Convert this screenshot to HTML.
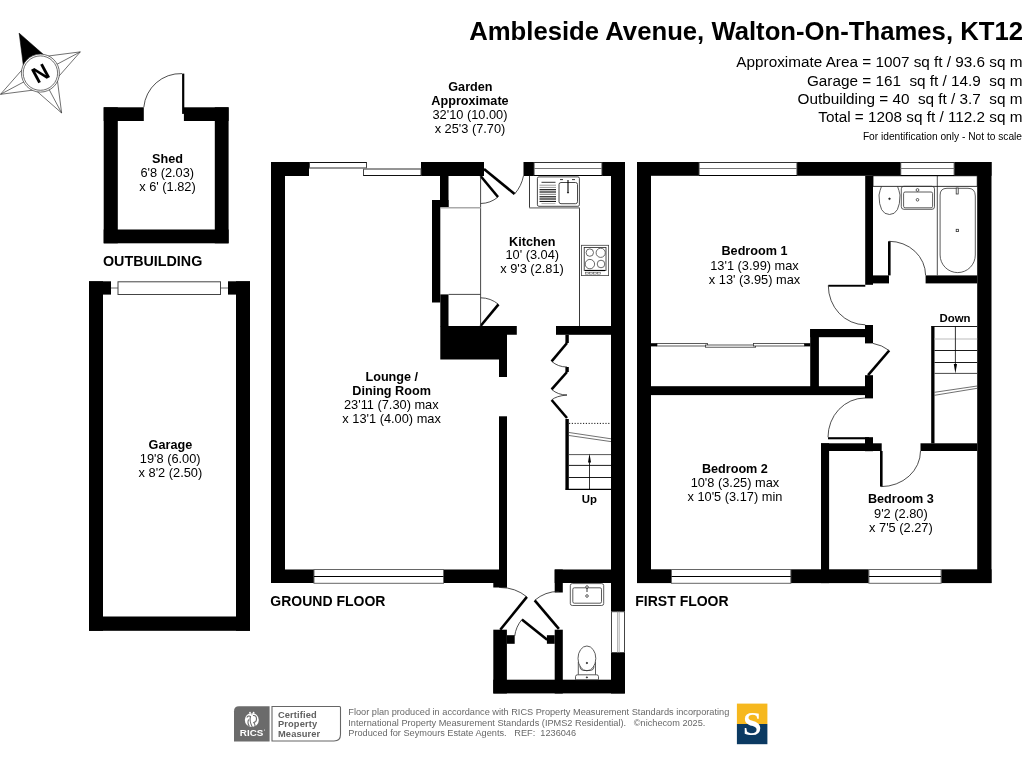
<!DOCTYPE html>
<html><head><meta charset="utf-8"><title>Floor plan</title>
<style>
html,body{margin:0;padding:0;background:#fff;width:1024px;height:768px;overflow:hidden}
svg{display:block;will-change:transform}
text{font-family:"Liberation Sans",sans-serif;fill:#000;white-space:pre}
.b{font-weight:bold}
.t{font-size:12.5px}
.g{fill:#777}
</style></head><body>
<svg width="1024" height="768" viewBox="0 0 1024 768">
<rect width="1024" height="768" fill="#fff"/>

<!-- ============ WALLS: GROUND FLOOR ============ -->
<g id="walls" fill="#000">
  <!-- lounge -->
  <rect x="271" y="162" width="38" height="14"/>
  <rect x="271" y="162" width="14" height="421"/>
  <rect x="271" y="569.5" width="43" height="13.5"/>
  <rect x="443.5" y="569.5" width="63" height="13.5"/>
  <rect x="421" y="162" width="63" height="14"/>
  <!-- cupboard wall -->
  <rect x="440" y="176" width="8.5" height="31.5"/>
  <rect x="432" y="200" width="16.5" height="7.5"/>
  <rect x="432" y="200" width="8.3" height="102.5"/>
  <rect x="440.3" y="294.4" width="8.2" height="32"/>
  <path d="M440.3,326 L516.8,326 L516.8,334.8 L507,334.8 L507,377 L499,377 L499,359.5 L440.3,359.5 Z"/>
  <rect x="499" y="416.3" width="8" height="171.2"/>
  <rect x="493.3" y="583" width="13.7" height="4.5"/>
  <!-- kitchen top right -->
  <rect x="523.5" y="162" width="10.5" height="14"/>
  <rect x="602" y="162" width="23" height="14"/>
  <rect x="611" y="162" width="14" height="449.7"/>
  <rect x="611" y="652.5" width="14" height="41"/>
  <rect x="556" y="326" width="55" height="8.8"/>
  <!-- hall bottom -->
  <rect x="554.7" y="569.5" width="70" height="13.5"/>
  <rect x="554.7" y="569.5" width="8.1" height="23"/>
  <!-- porch -->
  <rect x="493.3" y="629.7" width="13.6" height="63.8"/>
  <rect x="506.9" y="635.2" width="7.8" height="8.6"/>
  <rect x="554.7" y="629.7" width="8.1" height="63.8"/>
  <rect x="546.9" y="635.2" width="7.8" height="8.6"/>
  <rect x="493.3" y="679.7" width="131.4" height="13.7"/>
  <!-- stair wall -->
  <rect x="565.4" y="334.8" width="3.4" height="8.2"/>
  <rect x="565.4" y="367" width="3.4" height="5"/>
  <rect x="565.4" y="419" width="3.4" height="70.4"/>

  <!-- ============ FIRST FLOOR ============ -->
  <rect x="637" y="162" width="14" height="421"/>
  <rect x="637" y="162" width="62" height="13.8"/>
  <rect x="797" y="162" width="103.7" height="13.8"/>
  <rect x="954.2" y="162" width="37.3" height="13.8"/>
  <rect x="977.2" y="162" width="14.3" height="421"/>
  <rect x="637" y="569.3" width="34.5" height="13.8"/>
  <rect x="790.8" y="569.3" width="78.1" height="13.8"/>
  <rect x="941.1" y="569.3" width="50.4" height="13.8"/>
  <!-- bathroom -->
  <rect x="865.2" y="175.8" width="7.8" height="109"/>
  <rect x="873" y="275.4" width="16" height="8"/>
  <rect x="925.6" y="275.4" width="51.6" height="8"/>
  <rect x="888" y="241.3" width="2.6" height="34.1"/>
  <rect x="828.3" y="284.8" width="37" height="1.9"/>
  <!-- wardrobe / landing -->
  <rect x="865" y="325" width="8" height="18.4"/>
  <rect x="810.2" y="329" width="62.8" height="8.2"/>
  <rect x="810.2" y="329" width="8.7" height="66"/>
  <rect x="651" y="386.2" width="222" height="8.9"/>
  <rect x="865" y="375.2" width="8" height="23.2"/>
  <rect x="828" y="437.2" width="41" height="2.1"/>
  <rect x="865" y="437.2" width="8" height="14"/>
  <rect x="821" y="443.3" width="60.7" height="7.7"/>
  <rect x="920.5" y="443.3" width="56.7" height="7.7"/>
  <rect x="821" y="443.3" width="8.1" height="139.8"/>
  <rect x="880" y="451" width="2.6" height="35.6"/>
  <rect x="931.2" y="326.4" width="3.3" height="117"/>

  <!-- ============ OUTBUILDING ============ -->
  <rect x="103.7" y="107.3" width="40.1" height="13.7"/>
  <rect x="183.9" y="107.3" width="44.7" height="13.7"/>
  <rect x="103.7" y="107.3" width="14.1" height="136"/>
  <rect x="214.8" y="107.3" width="13.8" height="136"/>
  <rect x="103.7" y="229.5" width="124.9" height="13.8"/>
  <rect x="182.1" y="73.6" width="2.2" height="40.3"/>
  <!-- garage -->
  <rect x="89" y="281.3" width="22" height="13.3"/>
  <rect x="228" y="281.3" width="22" height="13.3"/>
  <rect x="89" y="281.3" width="14" height="349.5"/>
  <rect x="236" y="281.3" width="14" height="349.5"/>
  <rect x="89" y="616.5" width="161" height="14.3"/>
</g>

<!-- ============ WINDOWS ============ -->
<g fill="#fff" stroke="#444" stroke-width="1">
  <rect x="309.5" y="162.5" width="57" height="5.5"/>
  <rect x="363.5" y="169" width="57.5" height="6.5"/>
  <rect x="314" y="569.5" width="129.5" height="13.8" stroke="#666"/>
  <rect x="534" y="162.5" width="68" height="13" stroke="#333"/>
  <rect x="611.5" y="611.7" width="13" height="40.8"/>
  <rect x="118" y="281.8" width="102.5" height="12.7"/>
  <rect x="699" y="162.5" width="98" height="13" stroke="#333"/>
  <rect x="900.7" y="162.5" width="53.5" height="13" stroke="#333"/>
  <rect x="671.5" y="569.5" width="119.3" height="13.8" stroke="#666"/>
  <rect x="868.9" y="569.5" width="72.2" height="13.8" stroke="#666"/>
</g>
<g stroke="#000" stroke-width="1" fill="none">
  <line x1="309.5" y1="168" x2="366.5" y2="168" stroke="#888"/>
  <line x1="363.5" y1="169" x2="421" y2="169" stroke="#888"/>
  <line x1="309.5" y1="162.5" x2="366.5" y2="162.5" stroke="#111"/>
  <line x1="363.5" y1="175.5" x2="421" y2="175.5" stroke="#111"/>
  <line x1="314" y1="576.5" x2="443.5" y2="576.5"/>
  <line x1="534" y1="168.5" x2="602" y2="168.5" stroke="#777"/>
  <line x1="699" y1="168.5" x2="797" y2="168.5" stroke="#777"/>
  <line x1="900.7" y1="168.5" x2="954.2" y2="168.5" stroke="#777"/>
  <line x1="534" y1="175.5" x2="602" y2="175.5" stroke="#000"/>
  <line x1="699" y1="175.5" x2="797" y2="175.5" stroke="#000"/>
  <line x1="900.7" y1="175.5" x2="954.2" y2="175.5" stroke="#000"/>
  <line x1="671.5" y1="576.5" x2="790.8" y2="576.5"/>
  <line x1="868.9" y1="576.5" x2="941.1" y2="576.5"/>
</g>
<g stroke="#999" stroke-width="0.8" fill="none">
  <line x1="617.6" y1="611.7" x2="617.6" y2="652.5"/>
  <line x1="619.2" y1="611.7" x2="619.2" y2="652.5"/>
  <line x1="111" y1="288" x2="118" y2="288" stroke="#444"/>
  <line x1="220.5" y1="288" x2="228" y2="288" stroke="#444"/>
</g>

<!-- ============ DOORS ============ -->
<g stroke="#000" stroke-width="2.6" fill="none" stroke-linecap="butt">
  <line x1="484" y1="169" x2="514.6" y2="194"/>
  <line x1="480.6" y1="176" x2="498" y2="197"/>
  <line x1="480.6" y1="326" x2="498.5" y2="304.4"/>
  <line x1="567" y1="343" x2="551.6" y2="361.3"/>
  <line x1="567" y1="372" x2="551.6" y2="389.4"/>
  <line x1="551.6" y1="400" x2="567" y2="418"/>
  <line x1="500.3" y1="629.7" x2="526.9" y2="596.9"/>
  <line x1="558.9" y1="628.9" x2="534.7" y2="600.3"/>
  <line x1="547.2" y1="639.8" x2="521.9" y2="619.5"/>
  <line x1="868.1" y1="375.2" x2="889.2" y2="350.5"/>
</g>
<g stroke="#222" stroke-width="0.8" fill="none">
  <path d="M514.6,194 A39,39 0 0 0 523.5,175.8"/>
  <path d="M498,197 A27.4,27.4 0 0 1 480.6,203.5"/>
  <path d="M498.5,304.4 A28,28 0 0 0 480.6,297.8"/>
  <path d="M551.6,361.3 Q558,367 567,367"/>
  <path d="M551.6,389.4 Q558,395 567,395"/>
  <path d="M567,395 Q556,396 551.6,400"/>
  <path d="M526.9,596.9 A42.2,42.2 0 0 0 500.3,587.5"/>
  <path d="M534.7,600.3 A37.5,37.5 0 0 1 558.9,591.4"/>
  <path d="M521.9,619.5 A32.4,32.4 0 0 0 514.7,636"/>
  <path d="M182,73.6 A37,37 0 0 0 143.8,107.3"/>
  <path d="M889,241.3 A36.5,34.1 0 0 1 925.6,275.4"/>
  <path d="M828.3,285.5 A37,39.3 0 0 0 865.3,324.8"/>
  <path d="M889.2,350.5 Q882,345 873,343.4"/>
  <path d="M865,398 A37,39.2 0 0 0 828,437.2"/>
  <path d="M881.2,486.6 A39.3,35.6 0 0 0 920.5,451"/>
</g>
<!-- wardrobe sliding doors -->
<g fill="#fff" stroke="#333" stroke-width="0.8">
  <rect x="657" y="343.4" width="50.5" height="2.6"/>
  <rect x="705.4" y="345" width="50.2" height="2.2"/>
  <rect x="753.5" y="343.4" width="50.9" height="2.6"/>
</g>
<rect x="651" y="343.2" width="6" height="3.2" fill="#000"/>
<rect x="804.4" y="343.2" width="6" height="3.2" fill="#000"/>


<!-- ============ FIXTURES ============ -->
<g stroke="#333" stroke-width="0.9" fill="none">
  <!-- cupboards -->
  <line x1="480.6" y1="176" x2="480.6" y2="326"/>
  <line x1="448.5" y1="294.4" x2="480.6" y2="294.4"/>
  <line x1="440.3" y1="207.7" x2="480.6" y2="207.7" stroke="#aaa" stroke-width="1.4"/>
  <!-- kitchen worktop -->
  <path d="M529.5,175.8 L529.5,207.8 L579.5,207.8 L579.5,326" stroke="#222"/>
  <line x1="529.5" y1="207.8" x2="579.5" y2="207.8" stroke="#aaa" stroke-width="1.2"/>
  <!-- sink -->
  <rect x="537.4" y="176.9" width="42" height="29.4" rx="1.5"/>
  <rect x="559" y="182.5" width="18.5" height="21.2" rx="2"/>
</g>
<g stroke="#000" fill="none">
  <line x1="541.5" y1="182.3" x2="555.5" y2="182.3" stroke-width="0.8"/>
  <line x1="539.5" y1="185.2" x2="556" y2="185.2" stroke="#999" stroke-width="1"/>
  <line x1="539.5" y1="187.4" x2="556" y2="187.4" stroke="#999" stroke-width="1"/>
  <line x1="539.5" y1="189.7" x2="556" y2="189.7" stroke-width="1.1"/>
  <line x1="539.5" y1="192" x2="556" y2="192" stroke-width="1.1"/>
  <line x1="539.5" y1="194.3" x2="556" y2="194.3" stroke="#777" stroke-width="1"/>
  <line x1="539.5" y1="196.8" x2="556" y2="196.8" stroke-width="1.1"/>
  <line x1="539.5" y1="199" x2="556" y2="199" stroke-width="1.1"/>
  <line x1="539.5" y1="201.4" x2="556" y2="201.4" stroke-width="1"/>
  <line x1="541.5" y1="203.6" x2="555.5" y2="203.6" stroke="#999" stroke-width="0.8"/>
  <line x1="568" y1="180" x2="568" y2="192" stroke-width="1.1"/>
  <path d="M566.8,192 L569.2,192 L568,193.8 Z" fill="#000" stroke="none"/>
  <line x1="560" y1="179.6" x2="563" y2="179.6" stroke-width="0.8"/>
  <line x1="572" y1="179.6" x2="575" y2="179.6" stroke-width="0.8"/>
</g>
<!-- hob -->
<g stroke="#444" stroke-width="0.8" fill="#fff">
  <rect x="581.4" y="245.3" width="27.2" height="30.3"/>
  <rect x="584.2" y="247.5" width="21.8" height="23" stroke="#222"/>
  <circle cx="589.8" cy="252.6" r="3.7"/>
  <circle cx="600.7" cy="252.8" r="4.6"/>
  <circle cx="589.9" cy="264.1" r="4.7"/>
  <circle cx="601" cy="264" r="3.8"/>
  <line x1="585" y1="270.5" x2="605" y2="270.5" stroke="#000" stroke-width="1.2"/>
  <rect x="585.5" y="272.5" width="3" height="1.6" stroke-width="0.5"/>
  <rect x="589.5" y="272.5" width="3" height="1.6" stroke-width="0.5"/>
  <rect x="593.5" y="272.5" width="3" height="1.6" stroke-width="0.5"/>
  <rect x="597.5" y="272.5" width="3" height="1.6" stroke-width="0.5"/>
</g>
<!-- GF stairs -->
<g stroke="#000" stroke-width="0.9" fill="none">
  <line x1="569" y1="423.4" x2="611" y2="423.4" stroke-dasharray="1.2,1.6"/>
  <line x1="569" y1="432.5" x2="611" y2="438.8" stroke="#333" stroke-width="0.7"/>
  <line x1="569" y1="435.5" x2="611" y2="441.6" stroke="#333" stroke-width="0.7"/>
  <line x1="568.8" y1="454.6" x2="611" y2="454.6" stroke="#444"/>
  <line x1="568.8" y1="465.4" x2="611" y2="465.4"/>
  <line x1="568.8" y1="477.5" x2="611" y2="477.5"/>
  <line x1="565.4" y1="489.4" x2="611" y2="489.4" stroke-width="1.1"/>
  <line x1="589.5" y1="460" x2="589.5" y2="489.4" stroke-width="0.8"/>
  <path d="M589.5,453.5 L591,462.5 L588,462.5 Z" fill="#000" stroke="none"/>
</g>
<!-- FF stairs -->
<g stroke="#000" stroke-width="0.9" fill="none">
  <line x1="931.2" y1="326.5" x2="977.2" y2="326.5"/>
  <line x1="934.5" y1="339" x2="977.2" y2="339" stroke="#bbb" stroke-width="1.1"/>
  <line x1="934.5" y1="350.5" x2="977.2" y2="350.5"/>
  <line x1="934.5" y1="362.5" x2="977.2" y2="362.5"/>
  <line x1="934.5" y1="373.4" x2="977.2" y2="373.4" stroke="#333"/>
  <line x1="955.4" y1="326.5" x2="955.4" y2="366" stroke-width="0.8"/>
  <path d="M955.4,373.6 L957,364 L953.8,364 Z" fill="#000" stroke="none"/>
  <line x1="934.5" y1="392.3" x2="977.2" y2="386" stroke="#333" stroke-width="0.7"/>
  <line x1="934.5" y1="395.3" x2="977.2" y2="388.3" stroke="#333" stroke-width="0.7"/>
</g>
<!-- GF WC -->
<g stroke="#333" stroke-width="0.8" fill="#fff">
  <rect x="570.3" y="583.6" width="33.4" height="21.9" rx="2"/>
  <rect x="572.8" y="587.8" width="28.7" height="15.4" rx="1.5"/>
  <circle cx="587" cy="587" r="1.3"/>
  <circle cx="587" cy="596" r="1.3"/>
  <line x1="587" y1="588" x2="587" y2="592" stroke="#000"/>
  <path d="M578.3,662 L578.3,674.8 M595.5,662 L595.5,674.8" fill="none"/>
  <ellipse cx="586.9" cy="658.4" rx="8.9" ry="12.4"/>
  <path d="M579.8,666.5 Q580.5,670.5 583.5,670.5 L590.5,670.5 Q593.5,670.5 594.2,666.5" fill="none"/>
  <path d="M575.5,679.7 L575.5,676.6 Q575.5,674.8 577.5,674.8 L596.5,674.8 Q598.5,674.8 598.5,676.6 L598.5,679.7 Z"/>
  <circle cx="586.9" cy="663" r="0.7" fill="#000"/>
  <circle cx="586.9" cy="677.4" r="0.6" fill="#000"/>
</g>
<!-- FF bathroom -->
<g stroke="#333" stroke-width="0.8" fill="none">
  <rect x="873" y="175.8" width="104.2" height="10.5" stroke="#000"/>
  <line x1="937.3" y1="175.8" x2="937.3" y2="275.4" stroke="#222"/>
  <path d="M881.5,186.3 Q880,190 879,195 Q879,214.5 889.5,214.5 Q900,214.5 900,195 Q899,190 897.5,186.3"/>
  <circle cx="889.5" cy="198.8" r="0.8" fill="#000"/>
  <rect x="901.3" y="186.3" width="33.2" height="23" rx="2.5"/>
  <rect x="903.6" y="192" width="29" height="15.8" rx="1.5"/>
  <circle cx="917.5" cy="190" r="1.4"/>
  <circle cx="917.5" cy="199.8" r="1.3"/>
  <path d="M940.1,255 L940.1,195 Q940.1,188.3 947,188.3 L968,188.3 Q975.3,188.3 975.3,196 L975.3,255 A17.6,17.6 0 0 1 940.1,255"/>
  <rect x="956.2" y="188" width="2" height="6" fill="#fff"/>
  <rect x="956.2" y="229.3" width="2.2" height="2.3"/>
</g>


<!-- ============ TEXT ============ -->
<g font-size="12.8" text-anchor="middle">
  <text x="167.5" y="163" class="b" font-size="12.65">Shed</text>
  <text x="167.3" y="177">6'8 (2.03)</text>
  <text x="167.5" y="190.5">x 6' (1.82)</text>

  <text x="170.4" y="449" class="b" font-size="12.65">Garage</text>
  <text x="170.2" y="463.3">19'8 (6.00)</text>
  <text x="170.4" y="477">x 8'2 (2.50)</text>

  <text x="470.4" y="90.5" class="b" font-size="12.65">Garden</text>
  <text x="470" y="105" class="b" font-size="12.65">Approximate</text>
  <text x="470" y="118.8">32'10 (10.00)</text>
  <text x="470" y="132.5">x 25'3 (7.70)</text>

  <text x="391.8" y="381.3" class="b" font-size="12.65">Lounge /</text>
  <text x="391.6" y="395" class="b" font-size="12.65">Dining Room</text>
  <text x="391.3" y="408.8">23'11 (7.30) max</text>
  <text x="391.6" y="422.5">x 13'1 (4.00) max</text>

  <text x="532.3" y="245.6" class="b" font-size="12.65">Kitchen</text>
  <text x="532.3" y="259.4">10' (3.04)</text>
  <text x="532" y="272.8">x 9'3 (2.81)</text>

  <text x="754.5" y="255.4" class="b" font-size="12.65">Bedroom 1</text>
  <text x="754.5" y="269.7">13'1 (3.99) max</text>
  <text x="754.5" y="283.7">x 13' (3.95) max</text>

  <text x="734.9" y="473" class="b" font-size="12.65">Bedroom 2</text>
  <text x="734.9" y="487">10'8 (3.25) max</text>
  <text x="734.9" y="500.5">x 10'5 (3.17) min</text>

  <text x="900.9" y="503" class="b" font-size="12.65">Bedroom 3</text>
  <text x="900.9" y="517.5">9'2 (2.80)</text>
  <text x="900.9" y="531.6">x 7'5 (2.27)</text>

  <text x="589.3" y="502.5" class="b" font-size="11.4">Up</text>
  <text x="955" y="321.8" class="b" font-size="11.4">Down</text>
</g>
<g font-size="14" class="b">
  <text x="103" y="266.3" class="b" font-size="14.3">OUTBUILDING</text>
  <text x="270.3" y="605.8" class="b">GROUND FLOOR</text>
  <text x="635.3" y="605.5" class="b">FIRST FLOOR</text>
</g>
<g text-anchor="end" xml:space="preserve">
  <text x="1023" y="39.8" class="b" font-size="25.7">Ambleside Avenue, Walton-On-Thames, KT12</text>
  <text x="1022.5" y="66.6" font-size="15.3">Approximate Area = 1007 sq ft / 93.6 sq m</text>
  <text x="1022.5" y="85.7" font-size="15.3">Garage = 161  sq ft / 14.9  sq m</text>
  <text x="1022.5" y="103.9" font-size="15.3">Outbuilding = 40  sq ft / 3.7  sq m</text>
  <text x="1022.5" y="122.3" font-size="15.3">Total = 1208 sq ft / 112.2 sq m</text>
  <text x="1022" y="140.4" font-size="10.2">For identification only - Not to scale</text>
</g>
<g font-size="9.2" fill="#686868" xml:space="preserve">
  <text x="348.3" y="714.5" style="fill:#686868">Floor plan produced in accordance with RICS Property Measurement Standards incorporating</text>
  <text x="348.3" y="725.8" style="fill:#686868">International Property Measurement Standards (IPMS2 Residential).   ©nichecom 2025.</text>
  <text x="348.3" y="736.3" style="fill:#686868">Produced for Seymours Estate Agents.   REF:  1236046</text>
</g>


<!-- compass -->
<g>
  <path d="M19.18,33.19 L23.66,67.98 M19.18,33.19 L45.52,56.36 M19.18,33.19 L40.40,73.10 M80.31,51.88 L45.52,56.36 M80.31,51.88 L57.14,78.22 M80.31,51.88 L40.40,73.10 M61.62,113.01 L57.14,78.22 M61.62,113.01 L35.28,89.84 M61.62,113.01 L40.40,73.10 M0.49,94.32 L35.28,89.84 M0.49,94.32 L23.66,67.98 M0.49,94.32 L40.40,73.10" stroke="#333" stroke-width="0.7" fill="none"/>
  <path d="M19.18,33.19 L23.66,67.98 L40.40,73.10 L45.52,56.36 Z" fill="#000"/>
  <circle cx="40.4" cy="73.1" r="19" fill="#fff" stroke="#333" stroke-width="0.7"/>
  <circle cx="40.4" cy="73.1" r="17.2" fill="none" stroke="#333" stroke-width="0.7"/>
  <text x="0" y="0" font-size="22.5" font-weight="bold" text-anchor="middle" transform="translate(40.4,73.1) rotate(-28.0) translate(0,8.1)">N</text>
</g>

<!-- RICS logo -->
<g>
  <path d="M234,741.6 L234,711.3 Q234,706.3 239,706.3 L269.6,706.3 L269.6,741.6 Z" fill="#6b6b6b"/>
  <path d="M272,706.5 L339.5,706.5 Q340.5,706.5 340.5,707.5 L340.5,734.5 Q340.5,741 334,741 L272,741 Z" fill="none" stroke="#666" stroke-width="1.1"/>
  <circle cx="251.8" cy="720" r="7" fill="#fff"/>
  <g fill="none" stroke="#6b6b6b" stroke-width="1.1">
    <path d="M246.8,717.5 Q248.5,715 250.5,716.5 Q249,721 252.5,727.5"/>
    <path d="M249.5,726.5 Q247,723 248.6,719.5"/>
    <path d="M253,715.5 Q256.5,715 256.5,719 Q256.5,722 253.8,722.5 Q255.5,725 255,727"/>
    <path d="M251.8,712.8 L251.8,714.5" stroke-width="0.8"/>
  </g>
  <circle cx="250" cy="712.6" r="0.9" fill="#fff"/>
  <circle cx="253.6" cy="712.6" r="0.9" fill="#fff"/>
  <text x="239.8" y="735.5" font-size="8.6" font-weight="bold" style="fill:#fff" textLength="23.5" lengthAdjust="spacingAndGlyphs">RICS</text>
  <circle cx="264.5" cy="730" r="0.5" fill="#fff"/>
  <g font-size="9.3" font-weight="bold" style="fill:#606060" letter-spacing="0.12">
    <text x="278" y="717.6" style="fill:#606060">Certified</text>
    <text x="278" y="727.3" style="fill:#606060">Property</text>
    <text x="278" y="736.7" style="fill:#606060">Measurer</text>
  </g>
</g>
<!-- Seymours logo -->
<g>
  <rect x="736.9" y="703.6" width="30.5" height="20.4" fill="#f6b81e"/>
  <rect x="736.9" y="724" width="30.5" height="20.2" fill="#0b3a62"/>
  <text x="752.2" y="735.3" font-family="Liberation Serif" font-size="33.5" font-weight="bold" text-anchor="middle" style="fill:#fff;font-family:'Liberation Serif',serif">S</text>
</g>

</svg>
</body></html>
